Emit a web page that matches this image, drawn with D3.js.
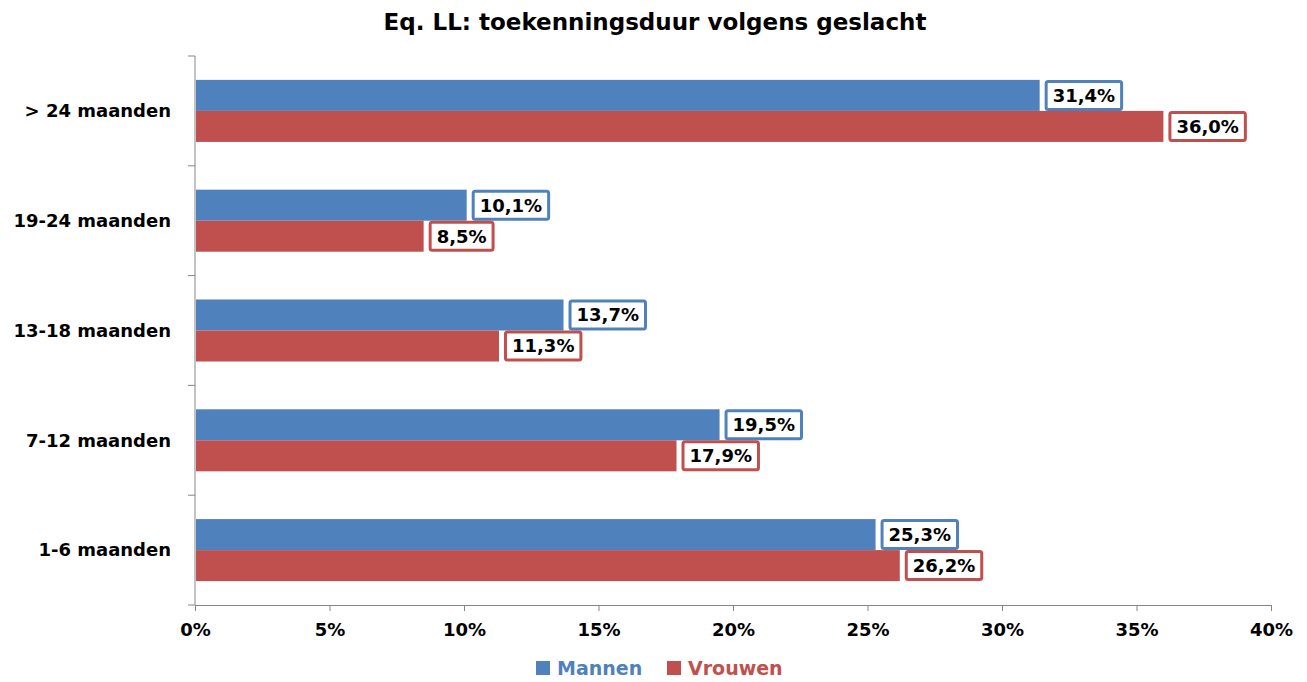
<!DOCTYPE html>
<html>
<head>
<meta charset="utf-8">
<script src="https://cdn.jsdelivr.net/npm/d3@7"></script>
<style>
  body { margin: 0; background: #fff; }
  svg { font-family: "DejaVu Sans", Verdana, sans-serif; font-weight: bold; }
</style>
</head>
<body>
<div id="chart"></div>
<script>
const categories = ["> 24 maanden", "19-24 maanden", "13-18 maanden", "7-12 maanden", "1-6 maanden"];
const mannen = [31.4, 10.1, 13.7, 19.5, 25.3];
const vrouwen = [36.0, 8.5, 11.3, 17.9, 26.2];
const xTicks = [0, 5, 10, 15, 20, 25, 30, 35, 40];
const seriesNames = ["Mannen", "Vrouwen"];

const colors = { Mannen: "#4f81bd", Vrouwen: "#c0504d" };

const width = 1307, height = 682;
const margin = { top: 56, right: 36, bottom: 77, left: 195 };

const svg = d3.select("#chart").append("svg")
    .attr("width", width)
    .attr("height", height);

// titel
svg.append("text")
    .attr("x", 655)
    .attr("y", 30)
    .attr("text-anchor", "middle")
    .attr("font-size", "23px")
    .attr("fill", "#000")
    .text("Eq. LL: toekenningsduur volgens geslacht");

const x = d3.scaleLinear()
    .domain([0, 40])
    .range([margin.left, width - margin.right]);

const y = d3.scaleBand()
    .domain(categories)
    .range([margin.top, height - margin.bottom])
    .paddingInner(0.435)
    .paddingOuter(0.2175);

const inner = d3.scaleBand()
    .domain(seriesNames)
    .range([0, y.bandwidth()]);

// y-as met streepjes tussen de categorieën
const yAxis = svg.append("g")
    .attr("transform", `translate(${margin.left},0)`);
yAxis.append("line")
    .attr("x1", 0).attr("x2", 0)
    .attr("y1", margin.top).attr("y2", height - margin.bottom)
    .attr("stroke", "#868686");
const step = y.step();
d3.range(categories.length + 1).forEach(i => {
    const yy = margin.top + i * step;
    yAxis.append("line")
        .attr("x1", -7).attr("x2", 0)
        .attr("y1", yy).attr("y2", yy)
        .attr("stroke", "#868686");
});
yAxis.selectAll("text.cat")
    .data(categories)
    .enter()
    .append("text")
    .attr("class", "cat")
    .attr("x", -24)
    .attr("y", d => y(d) + y.bandwidth() / 2)
    .attr("dy", "0.35em")
    .attr("text-anchor", "end")
    .attr("font-size", "18px")
    .text(d => d);

// x-as
const xAxis = svg.append("g")
    .attr("transform", `translate(0,${height - margin.bottom})`)
    .call(d3.axisBottom(x)
        .tickValues(xTicks)
        .tickSize(6)
        .tickSizeOuter(0)
        .tickPadding(12)
        .tickFormat(d => d + "%"));
xAxis.select(".domain").attr("stroke", "#868686");
xAxis.selectAll("line").attr("stroke", "#868686");
xAxis.selectAll("text")
    .attr("font-size", "18px")
    .attr("font-family", "DejaVu Sans, Verdana, sans-serif")
    .attr("font-weight", "bold")
    .attr("fill", "#000");

// balken
const rows = categories.map((c, i) => ({ cat: c, Mannen: mannen[i], Vrouwen: vrouwen[i] }));

seriesNames.forEach(s => {
    const g = svg.append("g");
    g.selectAll("rect")
        .data(rows)
        .enter()
        .append("rect")
        .attr("x", x(0) + 1)
        .attr("y", d => y(d.cat) + inner(s))
        .attr("width", d => x(d[s]) - x(0) - 1)
        .attr("height", inner.bandwidth())
        .attr("fill", colors[s]);

    // labels met kader
    rows.forEach(d => {
        const lg = g.append("g");
        const t = lg.append("text")
            .attr("x", x(d[s]) + 13)
            .attr("y", y(d.cat) + inner(s) + inner.bandwidth() / 2)
            .attr("dy", "0.36em")
            .attr("font-size", "18px")
            .attr("fill", "#000")
            .text(d3.format(".1f")(d[s]).replace(".", ",") + "%");
        const w = t.node().getComputedTextLength();
        lg.insert("rect", "text")
            .attr("x", x(d[s]) + 6.5)
            .attr("y", y(d.cat) + inner(s) + 1.5)
            .attr("width", w + 13)
            .attr("height", inner.bandwidth() - 3)
            .attr("rx", 2)
            .attr("fill", "#fff")
            .attr("stroke", colors[s])
            .attr("stroke-width", 3);
    });
});

// legende
const legend = svg.append("g").attr("transform", "translate(536,668)");
const legItems = [{ name: "Mannen", x: 0 }, { name: "Vrouwen", x: 131 }];
legItems.forEach(it => {
    legend.append("rect")
        .attr("x", it.x).attr("y", -7)
        .attr("width", 14).attr("height", 14)
        .attr("fill", colors[it.name]);
    legend.append("text")
        .attr("x", it.x + 21)
        .attr("y", 0)
        .attr("dy", "0.36em")
        .attr("font-size", "19px")
        .attr("fill", colors[it.name])
        .text(it.name);
});
</script>
</body>
</html>
